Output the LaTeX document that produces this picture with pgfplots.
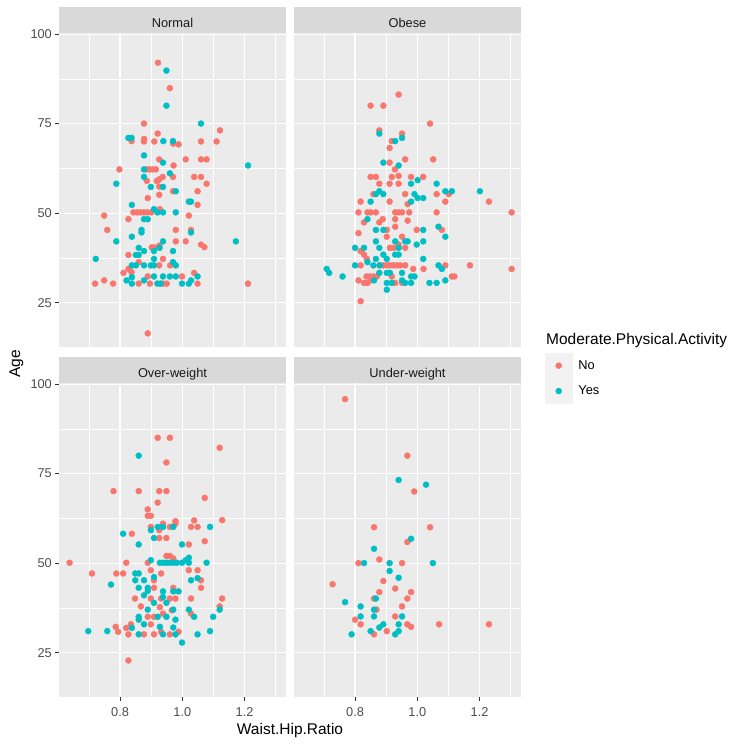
\documentclass[border=0pt]{standalone}
\usepackage{fontspec}
\setmainfont{Liberation Sans}
\usepackage{pgfplots}
\usepackage{pgfplotstable}
\pgfplotsset{compat=1.18}
\definecolor{ggred}{HTML}{F8766D}
\definecolor{ggblue}{HTML}{00BFC4}
\definecolor{panelbg}{HTML}{EBEBEB}
\definecolor{stripbg}{HTML}{D9D9D9}
\definecolor{ticktext}{HTML}{4D4D4D}
\definecolor{tickline}{HTML}{333333}
\definecolor{striptext}{HTML}{1A1A1A}
\definecolor{keybg}{HTML}{F2F2F2}

\pgfplotstableread{
x y
0.922 92.0
0.960 84.9
0.877 75.0
0.921 72.2
1.121 73.1
0.837 70.1
0.877 70.7
0.877 70.0
0.910 70.0
0.988 69.2
0.971 69.4
1.060 70.0
1.110 70.0
1.011 65.0
1.060 65.0
1.078 65.0
0.926 65.0
0.972 63.3
0.798 62.2
0.886 62.2
0.895 62.2
0.905 62.2
0.915 62.2
0.886 59.0
0.918 59.0
0.926 59.4
0.937 60.1
0.970 60.1
1.038 60.1
1.060 60.1
1.078 58.2
0.926 57.4
0.970 56.1
1.049 56.1
1.049 52.3
0.926 55.1
0.889 54.2
0.749 49.3
0.759 45.3
0.827 48.3
0.843 50.2
0.855 50.2
0.866 50.2
0.877 50.2
0.888 50.2
0.900 50.2
0.928 51.1
1.021 49.3
0.979 45.3
1.028 45.3
0.979 42.1
1.011 42.1
1.060 41.2
1.071 40.5
0.902 40.4
0.910 40.4
0.926 40.9
0.827 38.3
0.938 37.2
0.827 34.4
0.837 33.5
0.860 36.3
0.811 33.3
0.926 35.4
0.961 35.4
1.038 33.3
0.999 32.3
0.889 32.3
0.720 30.3
0.749 31.2
0.778 30.3
0.860 30.3
0.896 30.3
0.930 30.3
0.939 30.3
0.950 30.3
1.049 30.3
1.211 30.3
0.889 16.4
}\normalNo

\pgfplotstableread{
x y
0.949 89.8
0.949 80.0
1.060 75.0
0.827 71.0
0.837 71.0
0.939 70.1
0.970 70.1
0.877 66.1
0.877 62.2
0.938 64.1
0.960 61.1
1.211 63.3
0.788 58.2
0.877 60.1
0.899 57.3
0.938 57.3
0.979 56.1
1.021 53.2
1.028 53.2
0.838 52.3
0.909 51.1
0.920 50.2
0.938 50.2
0.979 50.2
0.877 48.3
0.889 48.3
0.869 45.3
0.869 44.6
1.028 44.6
0.788 42.1
0.838 43.4
0.938 42.1
1.172 42.1
0.860 40.3
0.927 40.3
0.851 38.3
0.860 38.3
0.877 39.4
0.909 39.4
0.970 39.4
0.722 37.2
0.909 37.2
0.838 35.4
0.851 35.4
0.877 35.4
0.899 35.4
0.909 35.4
0.970 36.3
0.979 35.4
0.821 31.2
0.838 32.1
0.838 30.3
0.877 31.2
0.909 32.3
0.920 30.3
0.930 30.3
0.938 32.3
0.960 32.3
0.979 32.3
0.999 30.3
1.021 30.3
1.028 31.2
1.049 32.3
}\normalYes

\pgfplotstableread{
x y
0.940 83.1
0.850 80.0
0.891 80.0
1.041 75.0
0.878 73.1
0.951 72.2
0.918 70.1
0.911 68.2
1.051 65.0
0.911 64.1
0.961 65.0
0.928 62.2
0.850 60.1
0.867 60.1
0.918 60.1
0.940 60.4
0.980 60.1
1.019 60.1
0.878 58.2
0.911 58.2
0.940 58.2
0.859 55.3
0.961 55.3
1.062 55.3
1.101 55.3
0.818 53.2
0.911 53.2
0.969 52.5
1.090 53.2
1.230 53.2
0.811 50.2
0.840 50.2
0.850 50.2
0.867 50.2
0.929 50.2
0.940 50.2
0.951 50.2
0.974 50.2
1.062 50.2
1.303 50.2
0.889 48.3
0.929 48.3
0.969 47.9
0.829 47.4
0.878 47.4
0.902 45.3
0.929 46.2
0.998 45.3
1.079 45.3
0.811 44.4
0.902 43.4
0.951 43.4
0.818 39.4
0.829 38.4
0.912 40.3
0.923 40.3
0.961 40.3
0.940 41.2
0.838 37.2
0.878 35.4
0.891 35.4
0.902 35.4
0.912 35.4
0.923 35.4
0.934 35.4
0.945 35.4
0.961 35.4
0.818 35.4
1.020 34.4
1.090 35.4
1.169 35.4
1.303 34.4
0.837 32.3
0.848 32.3
0.859 32.3
0.870 32.3
0.987 34.4
0.811 31.2
0.829 30.5
0.840 30.5
0.929 30.5
0.951 30.5
1.111 32.3
1.119 32.3
0.818 25.4
0.850 31.2
0.918 32.3
}\obeseNo

\pgfplotstableread{
x y
0.878 72.2
0.929 70.1
0.951 71.0
0.891 64.1
0.940 63.3
0.980 58.2
1.001 59.2
1.062 58.2
0.850 53.2
0.867 55.3
0.878 56.1
0.891 55.3
0.980 53.2
0.991 55.3
1.001 54.2
1.019 54.2
1.090 56.1
1.111 56.1
1.201 56.1
0.840 48.3
0.867 45.3
0.891 45.3
1.019 45.3
1.068 46.2
1.090 43.4
0.867 42.1
0.929 42.1
0.961 42.1
0.969 42.1
0.998 41.2
1.019 42.1
0.800 40.3
0.829 40.3
0.878 40.3
0.940 40.3
0.840 36.3
0.867 37.2
0.891 38.4
0.902 37.2
0.929 38.4
0.940 38.4
1.019 37.2
0.709 34.4
0.717 33.3
0.760 32.3
0.800 35.4
0.859 35.4
0.880 35.4
0.878 33.3
0.902 33.3
0.912 33.3
0.951 33.3
0.980 32.3
0.991 32.3
1.068 35.4
1.079 34.4
0.861 31.2
0.902 30.5
0.918 30.5
0.951 31.2
0.961 30.5
0.980 30.5
1.039 30.5
1.062 30.5
1.090 31.2
0.902 28.6
}\obeseYes

\pgfplotstableread{
x y
0.921 85.0
0.960 85.0
1.120 82.2
0.949 78.1
0.860 70.1
0.779 70.1
0.926 70.1
0.949 70.1
0.921 66.9
1.072 68.2
0.889 65.0
0.889 63.2
0.899 63.2
1.038 61.9
1.028 60.1
1.128 62.0
0.978 61.7
0.978 61.0
0.938 61.0
0.899 60.1
0.926 59.2
0.960 60.1
1.049 60.1
1.072 56.1
0.926 57.0
0.949 57.0
0.838 58.2
1.021 55.2
0.949 52.0
0.960 52.0
0.971 51.3
0.820 50.1
0.638 50.1
0.710 47.1
0.788 47.1
0.810 47.1
0.889 50.1
0.899 48.0
0.932 47.1
1.021 48.0
1.049 48.0
1.060 45.2
1.060 43.1
0.909 45.2
0.909 43.1
0.971 43.1
0.848 40.1
0.899 40.1
0.932 40.1
0.960 40.1
0.978 40.1
1.028 40.1
1.128 40.1
1.120 37.9
0.867 37.9
0.928 37.7
0.966 36.8
1.028 35.9
0.889 35.0
0.909 35.0
0.938 35.9
0.786 32.2
0.794 30.8
0.820 31.9
0.835 32.9
0.827 30.1
0.877 30.1
0.909 30.1
0.932 30.8
0.960 30.1
0.988 30.8
0.899 32.9
0.827 22.8
}\overNo

\pgfplotstableread{
x y
0.860 80.0
0.860 55.2
0.810 58.2
0.899 59.2
0.921 60.1
0.938 60.1
0.971 60.1
1.089 60.1
0.909 57.0
0.999 55.2
0.899 50.8
0.928 50.1
0.939 50.1
0.950 50.1
0.960 50.1
0.971 50.1
0.982 50.1
0.999 50.1
1.011 50.8
1.021 51.5
1.021 50.1
1.078 50.1
1.049 45.8
1.028 45.2
0.771 44.0
0.849 47.1
0.860 47.1
0.849 45.2
0.877 45.2
0.860 43.1
0.889 43.1
0.889 42.2
0.909 46.1
0.877 41.0
0.938 42.1
0.971 42.1
0.988 42.1
0.938 40.5
0.909 38.9
0.949 38.9
0.971 37.0
1.021 37.0
0.860 35.0
0.860 34.2
0.889 37.0
0.921 35.0
0.949 35.0
0.978 34.2
1.038 35.0
1.099 35.0
1.120 37.0
0.698 31.0
0.759 31.0
0.838 31.9
0.860 30.1
0.877 32.9
0.928 32.2
0.938 30.1
0.971 32.0
0.978 30.1
1.049 30.1
1.089 31.0
0.999 27.8
}\overYes

\pgfplotstableread{
x y
0.768 95.8
0.968 80.0
0.990 70.0
0.861 60.0
1.041 60.0
0.968 55.9
0.811 50.0
0.878 51.0
0.951 50.0
0.728 44.1
0.891 45.0
0.878 41.9
0.929 42.9
0.980 41.9
0.861 40.1
0.968 40.1
0.869 37.0
0.951 37.9
0.800 34.2
0.818 32.9
0.929 35.1
0.968 32.9
0.980 32.2
0.902 31.0
0.861 30.1
1.070 32.9
1.230 32.9
}\underNo

\pgfplotstableread{
x y
0.940 73.2
1.028 71.9
0.980 56.8
0.861 54.0
0.829 50.0
0.911 50.0
1.050 50.0
0.911 47.8
0.940 45.9
0.867 40.1
0.768 39.1
0.818 37.9
0.861 37.0
0.818 35.1
0.861 35.1
0.951 35.1
0.891 32.9
0.878 32.0
0.940 32.9
0.850 31.0
0.940 31.0
0.929 30.1
0.789 30.1
}\underYes

\pgfplotsset{
  facet/.style={
    scale only axis, width=227pt, height=314pt,
    xmin=0.604, xmax=1.333, ymin=12.6, ymax=100.3,
    axis background/.style={fill=panelbg},
    axis line style={draw=none},
    xtick={0.8,1.0,1.2}, ytick={25,50,75,100},
    minor xtick={0.7,0.9,1.1,1.3}, minor ytick={12.5,37.5,62.5,87.5},
    xmajorgrids, ymajorgrids, xminorgrids, yminorgrids,
    major grid style={draw=white, line width=1.1pt},
    minor grid style={draw=white, line width=0.55pt},
    xtick pos=bottom, ytick pos=left,
    tick align=outside, major tick length=3.6pt, minor tick length=0pt,
    tick style={draw=tickline, line width=0.8pt},
    xticklabels={0.8,1.0,1.2}, yticklabels={25,50,75,100},
    ticklabel style={font=\fontsize{12.8}{13}\selectfont, text=ticktext},
    xticklabel style={yshift=-3pt},
    yticklabel style={xshift=0pt},
  },
  noxlab/.style={xticklabels={}, xtick style={draw=none}},
  noylab/.style={yticklabels={}, ytick style={draw=none}},
  pno/.style={only marks, mark=*, mark size=3.0pt, color=ggred, mark options={draw=none, fill=ggred}},
  pyes/.style={only marks, mark=*, mark size=3.0pt, color=ggblue, mark options={draw=none, fill=ggblue}},
}

\begin{document}
\begin{tikzpicture}[x=1pt,y=1pt]
\path[use as bounding box] (0,0) rectangle (750,749);

% Normal (top left)
\begin{axis}[facet, noxlab, at={(59pt,402pt)}, anchor=south west]
\addplot[pno] table {\normalNo};
\addplot[pyes] table {\normalYes};
\end{axis}

% Obese (top right)
\begin{axis}[facet, noxlab, noylab, at={(294pt,402pt)}, anchor=south west,
  legend style={at={(1.1057,-0.019)}, anchor=north west, draw=none, fill=none,
    inner sep=0pt, outer sep=0pt, row sep=0pt, column sep=6pt,
    font=\fontsize{12.8}{13}\selectfont, text=black,
    nodes={inner sep=0pt, outer sep=0pt}},
  legend cell align=left]
\addplot[pno, legend image code/.code={\fill[keybg] (0pt,-12.5pt) rectangle (27pt,12.5pt); \fill[ggred] (13.5pt,0pt) circle (3.0pt);}] table {\obeseNo};
\addplot[pyes, legend image code/.code={\fill[keybg] (0pt,-12.5pt) rectangle (27pt,12.5pt); \fill[ggblue] (13.5pt,0pt) circle (3.0pt);}] table {\obeseYes};
\legend{No,Yes}
\end{axis}

% Over-weight (bottom left)
\begin{axis}[facet, at={(59pt,52pt)}, anchor=south west]
\addplot[pno] table {\overNo};
\addplot[pyes] table {\overYes};
\end{axis}

% Under-weight (bottom right)
\begin{axis}[facet, noylab, at={(294pt,52pt)}, anchor=south west]
\addplot[pno] table {\underNo};
\addplot[pyes] table {\underYes};
\end{axis}

% strips
\fill[stripbg] (59,716) rectangle (286,742);
\fill[stripbg] (294,716) rectangle (521,742);
\fill[stripbg] (59,366) rectangle (286,392);
\fill[stripbg] (294,366) rectangle (521,392);
\begin{scope}[every node/.style={anchor=base, text=striptext, font=\fontsize{12.8}{13}\selectfont, inner sep=0pt}]
\node at (172.5,721.3) {Normal};
\node at (407.5,721.3) {Obese};
\node at (172.5,371.3) {Over-weight};
\node at (407.5,371.3) {Under-weight};
\end{scope}

% axis titles
\node[font=\fontsize{15.5}{16}\selectfont, anchor=base] at (290,14) {Waist.Hip.Ratio};
\node[font=\fontsize{15.5}{16}\selectfont, rotate=90, anchor=base] at (20,385) {Age};

% legend title
\node[font=\fontsize{15.5}{16}\selectfont, anchor=base west, inner sep=0pt] at (546,404) {Moderate.Physical.Activity};
\end{tikzpicture}
\end{document}
